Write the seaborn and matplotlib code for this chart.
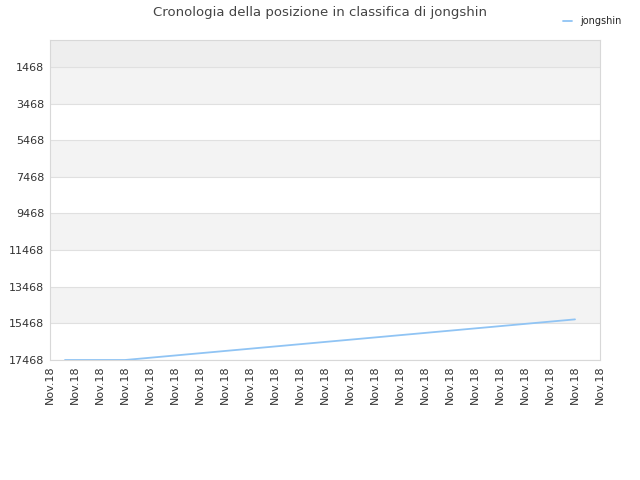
import matplotlib
matplotlib.use("Agg")
import matplotlib.pyplot as plt
import seaborn as sns
import numpy as np
import pandas as pd

ranks = [17468, 17468, 17468, 17468, 17468, 17468, 17468,
         17419, 17370, 17320, 17271, 17222, 17172, 17123, 17074, 17025,
         16975, 16926, 16877, 16827, 16778, 16729, 16680, 16630, 16581,
         16532, 16482, 16433, 16384, 16335, 16285, 16236, 16187, 16137,
         16088, 16039, 15990, 15940, 15891, 15842, 15792, 15743, 15694,
         15645, 15595, 15546, 15497, 15447, 15398, 15349, 15300, 15250]
ytick_vals = [1468, 3468, 5468, 7468, 9468, 11468, 13468, 15468, 17468]
xtick_label = "Nov.18"
series_name = "jongshin"

sns.set_style("white")
df = pd.DataFrame({"x": np.arange(len(ranks)), "rank": ranks})

fig = plt.figure(figsize=(6.4, 4.8), dpi=100)
ax = fig.add_axes([50/640, 1-360/480, 550/640, 320/480])

bands = [0] + ytick_vals
colors = ["#eeeeee", "#f3f3f3", "#ffffff", "#f3f3f3", "#ffffff", "#f3f3f3", "#ffffff", "#f3f3f3", "#ffffff"]
for i in range(len(bands)-1):
    ax.axhspan(bands[i], bands[i+1], color=colors[i], zorder=0, lw=0)
for v in ytick_vals:
    ax.axhline(v, color="#e0e0e0", lw=0.8, zorder=1)

sns.lineplot(data=df, x="x", y="rank", ax=ax, color="#90c4f4", lw=1.3, label=series_name, zorder=3)

ax.set_xlim(-1.5, 53.5)
ax.set_ylim(17468, 0)
ax.set_yticks(ytick_vals)
ax.set_yticklabels([str(v) for v in ytick_vals], fontsize=8, color="#333333")
xt = np.linspace(-1.5, 53.5, 23)
ax.set_xticks(xt)
ax.set_xticklabels([xtick_label]*len(xt), rotation=90, fontsize=8, color="#333333")
ax.tick_params(length=0, pad=4)
ax.set_xlabel("")
ax.set_ylabel("")
for s in ax.spines.values():
    s.set_color("#d8d8d8")
ax.legend(loc="upper right", bbox_to_anchor=(0.985, 0.985), bbox_transform=fig.transFigure,
          frameon=False, fontsize=7, handlelength=1)
fig.suptitle("Cronologia della posizione in classifica di jongshin", y=0.988, fontsize=9.5, color="#444444")
fig.savefig("out.png", dpi=100)
